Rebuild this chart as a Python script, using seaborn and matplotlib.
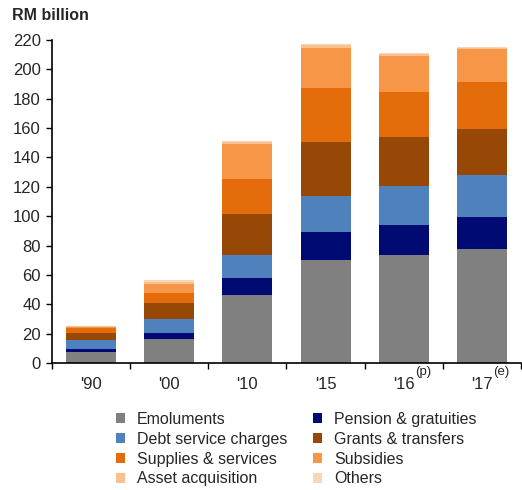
import numpy as np
import pandas as pd
import matplotlib
matplotlib.use("Agg")
import matplotlib.pyplot as plt
from matplotlib.ticker import FixedLocator
from matplotlib.patches import Patch
import seaborn as sns

years = ["'90", "'00", "'10", "'15", "'16", "'17"]
year_notes = ["", "", "", "", "(p)", "(e)"]
emoluments = [7.7, 16.2, 46.5, 69.9, 73.3, 77.7]
pension = [1.6, 4.1, 11.6, 19.1, 20.7, 21.6]
debt = [6.4, 9.5, 15.7, 24.6, 26.7, 28.9]
grants = [4.6, 11.4, 28.0, 37.2, 33.5, 31.2]
supplies = [3.2, 6.8, 23.7, 36.2, 30.5, 31.9]
subsidies = [0.8, 5.7, 23.5, 27.5, 24.6, 22.6]
asset = [0.6, 1.8, 1.5, 2.0, 1.2, 0.8]
others = [0.4, 1.2, 0.7, 0.8, 0.6, 0.5]

series_names = ["Emoluments", "Pension & gratuities", "Debt service charges",
                "Grants & transfers", "Supplies & services", "Subsidies",
                "Asset acquisition", "Others"]
series_vals = [emoluments, pension, debt, grants, supplies, subsidies, asset, others]
colors = ["#808080", "#000A73", "#4F81BD", "#974706", "#E46C0A", "#F79646",
          "#FAC090", "#FCD5B5"]

sns.set_style("white")
plt.rcParams['font.family'] = ['Liberation Sans', 'DejaVu Sans']

fig = plt.figure(figsize=(5.22, 4.90), dpi=100)
ax = fig.add_axes([52/522, 127/490, 469/522, (363-40)/490])

cum = np.cumsum(np.array(series_vals), axis=0)
for i in reversed(range(len(series_names))):
    df = pd.DataFrame({"year": years, "value": cum[i]})
    sns.barplot(data=df, x="year", y="value", color=colors[i], saturation=1,
                width=0.64, ax=ax, linewidth=0)

ax.set_xlim(-0.5, 5.5)
ax.set_ylim(0, 220)
ax.set_yticks(np.arange(0, 221, 20))
ax.set_xlabel("")
ax.set_ylabel("")
for s in ["top", "right"]:
    ax.spines[s].set_visible(False)
for s in ["left", "bottom"]:
    ax.spines[s].set_color("black")
    ax.spines[s].set_linewidth(1.2)
ax.tick_params(axis="y", which="major", direction="out", length=4, width=1,
               color="black", labelsize=12, pad=4, left=True)
ax.tick_params(axis="x", which="major", length=0, labelsize=12, pad=10)
ax.xaxis.set_minor_locator(FixedLocator(np.arange(-0.5, 5.6, 1.0)))
ax.tick_params(axis="x", which="minor", direction="out", length=4, width=1,
               color="black", bottom=True)

for i, note in enumerate(year_notes):
    if note:
        ax.annotate(note, xy=(i, 0), xycoords=("data", "axes fraction"),
                    xytext=(11, -9), textcoords="offset pixels",
                    ha="left", va="center", fontsize=9.5)

fig.text(12/522, 1 - 15/490, "RM billion", fontsize=11.5, fontweight="bold",
         va="center", ha="left")

order = [0, 2, 4, 6, 1, 3, 5, 7]
handles = [Patch(facecolor=colors[i], edgecolor="none", label=series_names[i]) for i in order]
fig.legend(handles=handles, ncol=2, loc="upper left",
           bbox_to_anchor=(116/522, 1 - 412/490), frameon=False,
           fontsize=11.5, handlelength=0.56, handleheight=0.56,
           handletextpad=0.75, columnspacing=1.6, labelspacing=0.3,
           borderaxespad=0, borderpad=0)

fig.savefig("out.png", dpi=100)
